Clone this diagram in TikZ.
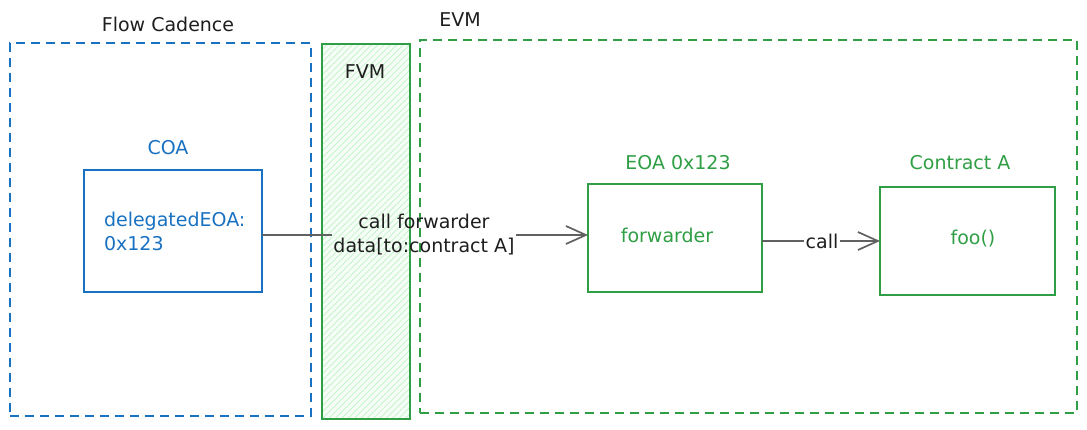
\documentclass[tikz,border=0pt]{standalone}
\usepackage{fontspec}
\setmainfont{DejaVu Sans}
\usetikzlibrary{arrows.meta,patterns.meta}
\definecolor{exblue}{HTML}{1971C2}
\definecolor{exgreen}{HTML}{2F9E44}
\definecolor{exhatch}{HTML}{B2F2BB}
\definecolor{exink}{HTML}{1E1E1E}
\tikzset{
  zone/.style={draw,dash pattern=on 9pt off 6pt,line width=1.3pt,inner sep=0pt,outer sep=0pt},
  box/.style={draw,line width=1.1pt,inner sep=0pt,outer sep=0pt},
  hatch/.style={pattern={Lines[angle=45,distance=4.5pt,line width=0.7pt]},pattern color=exhatch!85},
  title/.style={font=\fontsize{19}{24}\selectfont},
  flow/.style={draw=exink!70,line width=1.7pt},
  tip/.style={-{Straight Barb[length=20pt,width=18pt]}}
}
\begin{document}
\begin{tikzpicture}[x=1pt,y=-1pt]
  \useasboundingbox (0,0) rectangle (1087,429);
  \node[zone,exblue,minimum width=301,minimum height=373] (cadence) at (160.5,229.5) {};
  \node[fill=exhatch!12,postaction={hatch},inner sep=0pt,
       minimum width=88,minimum height=375] (fvmfill) at (366,231.5) {};
  \node[box,exgreen,line width=1.3pt,minimum width=88,minimum height=375] (fvm) at (366,231.5) {};
  \node[zone,exgreen,minimum width=657,minimum height=373] (evm) at (748.5,226.5) {};
  \node[title,exink] (cadencelbl) at (168,24) {Flow Cadence};
  \node[title,exink] (fvmlbl) at (365,72) {FVM};
  \node[title,exink] (evmlbl) at (460,20) {EVM};
  \node[title,exblue] (coalbl) at (168,148) {COA};
  \node[box,exblue,title,minimum width=178,minimum height=122,
       text width=138,align=left] (coa) at (173,231) {delegatedEOA:\\0x123};
  \node[title,exgreen] (eoalbl) at (678,163) {EOA 0x123};
  \node[box,exgreen,title,minimum width=174,minimum height=108] (eoa) at (675,238) {};
  \node[title,exgreen] (fwdtxt) at (667,235) {forwarder};
  \node[title,exgreen] (ctrlbl) at (960,163) {Contract A};
  \node[box,exgreen,title,minimum width=175,minimum height=108] (ctr) at (967.5,241) {};
  \node[title,exgreen] (footxt) at (973,239) {foo()};
  \node[title,exink,align=center,inner sep=1pt] (fwd) at (424,235)
       {call forwarder\\data[to:contract A]};
  \node[title,exink,inner sep=1pt] (call) at (822,241) {call};
  \draw[flow] (coa.east |- fwd) -- (fwd);
  \draw[flow,tip] (fwd) -- (eoa.west |- fwd);
  \draw[flow] (eoa.east |- call) -- (call);
  \draw[flow,tip] (call) -- (ctr.west |- call);
\end{tikzpicture}
\end{document}
